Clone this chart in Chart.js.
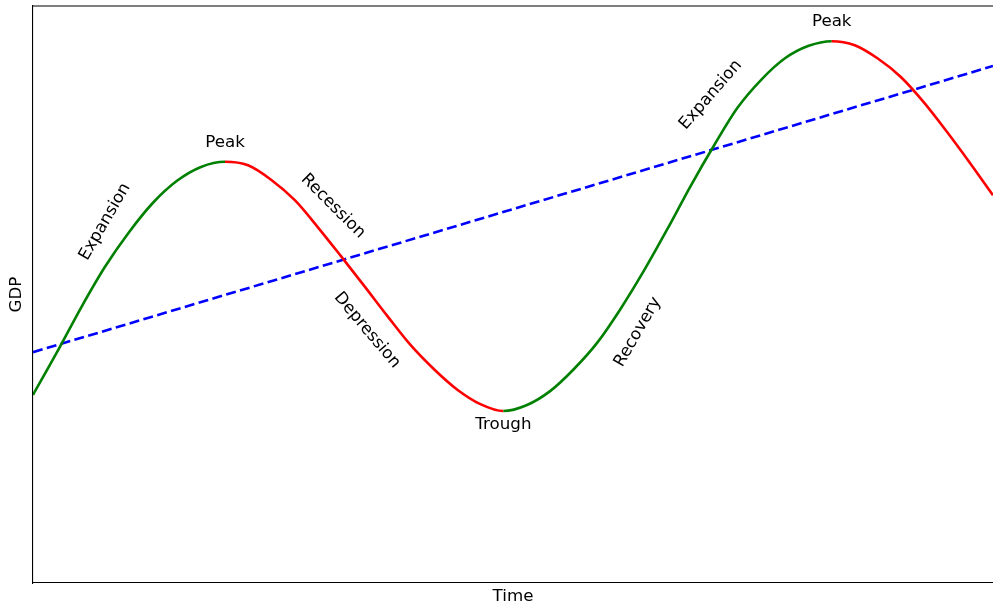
<!DOCTYPE html>
<html lang="pt-br">
<head>
<meta charset="UTF-8">
<title>Ciclo econômico</title>
<script src="https://cdn.jsdelivr.net/npm/chart.js@4.4.1/dist/chart.umd.min.js"></script>
<style>
    html, body { margin: 0; padding: 0; background: #fff; }
    canvas { display: block; }
</style>
</head>
<body>
<canvas id="graficoCiclo" width="993" height="607"></canvas>
<script>
// Valores (eixo x = tempo de 0 a 10, eixo y = PIB de 0 a 10)
// pontos quase equidistantes, com os picos e o vale caindo em cima de um ponto
const tempo = [0, 0.25, 0.5, 0.75, 1, 1.25, 1.5, 1.75, 2,
    2.24, 2.48, 2.73, 2.97, 3.21, 3.45, 3.69, 3.93, 4.18, 4.42, 4.66, 4.9,
    5.14, 5.39, 5.63, 5.88, 6.12, 6.37, 6.61, 6.85, 7.10, 7.34, 7.59, 7.83, 8.08, 8.32,
    8.56, 8.8, 9.04, 9.28, 9.52, 9.76, 10];
const pib = [3.26, 4.00, 4.77, 5.48, 6.08, 6.59, 6.97, 7.21, 7.30,
    7.24, 6.99, 6.63, 6.16, 5.66, 5.15, 4.63, 4.13, 3.70, 3.35, 3.10, 2.98,
    3.08, 3.33, 3.70, 4.17, 4.75, 5.43, 6.14, 6.88, 7.60, 8.24, 8.73, 9.09, 9.31, 9.39,
    9.32, 9.09, 8.77, 8.33, 7.82, 7.28, 6.72];

// Linha de tendência (tracejada)
const tendenciaTempo = [0, 10];
const tendenciaPib = [4.0, 8.96];

// Textos das fases do ciclo (posição em coordenadas do gráfico, ângulo em graus)
const anotacoes = [
    { texto: 'Peak', x: 2.0, y: 7.63, angulo: 0 },
    { texto: 'Expansion', x: 0.75, y: 6.26, angulo: -60 },
    { texto: 'Recession', x: 3.125, y: 6.53, angulo: 45 },
    { texto: 'Depression', x: 3.48, y: 4.38, angulo: 50 },
    { texto: 'Trough', x: 4.9, y: 2.74, angulo: 0 },
    { texto: 'Recovery', x: 6.30, y: 4.35, angulo: -60 },
    { texto: 'Expansion', x: 7.06, y: 8.46, angulo: -49 },
    { texto: 'Peak', x: 8.32, y: 9.72, angulo: 0 }
];

const FONTE = '"DejaVu Sans", sans-serif';
const TAM_FONTE = 16.7;

Chart.defaults.font.family = FONTE;
Chart.defaults.font.size = TAM_FONTE;
Chart.defaults.color = '#000';

// Desenha os textos rotacionados por cima das linhas
const pluginRotulos = {
    id: 'rotulos',
    afterDatasetsDraw(chart) {
        const ctx = chart.ctx;
        const escalaX = chart.scales.x;
        const escalaY = chart.scales.y;
        ctx.save();
        ctx.font = TAM_FONTE + 'px ' + FONTE;
        ctx.fillStyle = '#000';
        ctx.textAlign = 'center';
        ctx.textBaseline = 'middle';
        anotacoes.forEach(function (a) {
            ctx.save();
            ctx.translate(escalaX.getPixelForValue(a.x), escalaY.getPixelForValue(a.y));
            ctx.rotate(a.angulo * Math.PI / 180);
            ctx.fillText(a.texto, 0, 0);
            ctx.restore();
        });
        ctx.restore();
    }
};

// Linha superior da moldura (a direita fica cortada na figura original)
const pluginMoldura = {
    id: 'moldura',
    afterDraw(chart) {
        const area = chart.chartArea;
        const ctx = chart.ctx;
        ctx.save();
        ctx.strokeStyle = '#000';
        ctx.lineWidth = 1.1;
        ctx.beginPath();
        ctx.moveTo(area.left, area.top);
        ctx.lineTo(chart.width, area.top);
        ctx.stroke();
        ctx.restore();
    }
};

const pontosCiclo = tempo.map((t, i) => ({ x: t, y: pib[i] }));
const pontosTendencia = tendenciaTempo.map((t, i) => ({ x: t, y: tendenciaPib[i] }));

const ctx = document.getElementById('graficoCiclo').getContext('2d');
new Chart(ctx, {
    type: 'line',
    data: {
        datasets: [
            {
                label: 'GDP',
                data: pontosCiclo,
                borderWidth: 2.6,
                cubicInterpolationMode: 'monotone',
                pointRadius: 0,
                // verde quando sobe, vermelho quando desce
                segment: {
                    borderColor: c => c.p1.parsed.y >= c.p0.parsed.y ? '#008000' : '#ff0000'
                },
                borderColor: '#008000'
            },
            {
                label: 'Tendência',
                data: pontosTendencia,
                borderColor: '#0000ff',
                borderWidth: 2.6,
                borderDash: [10, 4.4],
                pointRadius: 0
            }
        ]
    },
    options: {
        responsive: false,
        animation: false,
        devicePixelRatio: 1,
        layout: { padding: { top: 6, right: 0, left: 0, bottom: 0 } },
        plugins: {
            legend: { display: false },
            tooltip: { enabled: false }
        },
        scales: {
            x: {
                type: 'linear',
                min: 0,
                max: 10,
                grid: { display: false },
                ticks: { display: false },
                border: { display: true, color: '#000', width: 1.1 },
                title: { display: true, text: 'Time', padding: { top: 0, bottom: 0 } },
                afterFit: function (escala) { escala.height = 24; }
            },
            y: {
                min: 0,
                max: 10,
                grid: { display: false },
                ticks: { display: false },
                border: { display: true, color: '#000', width: 1.1 },
                title: { display: true, text: 'GDP', padding: { top: 7, bottom: 0 } },
                afterFit: function (escala) { escala.width = 33; }
            }
        }
    },
    plugins: [pluginRotulos, pluginMoldura]
});
</script>
</body>
</html>
